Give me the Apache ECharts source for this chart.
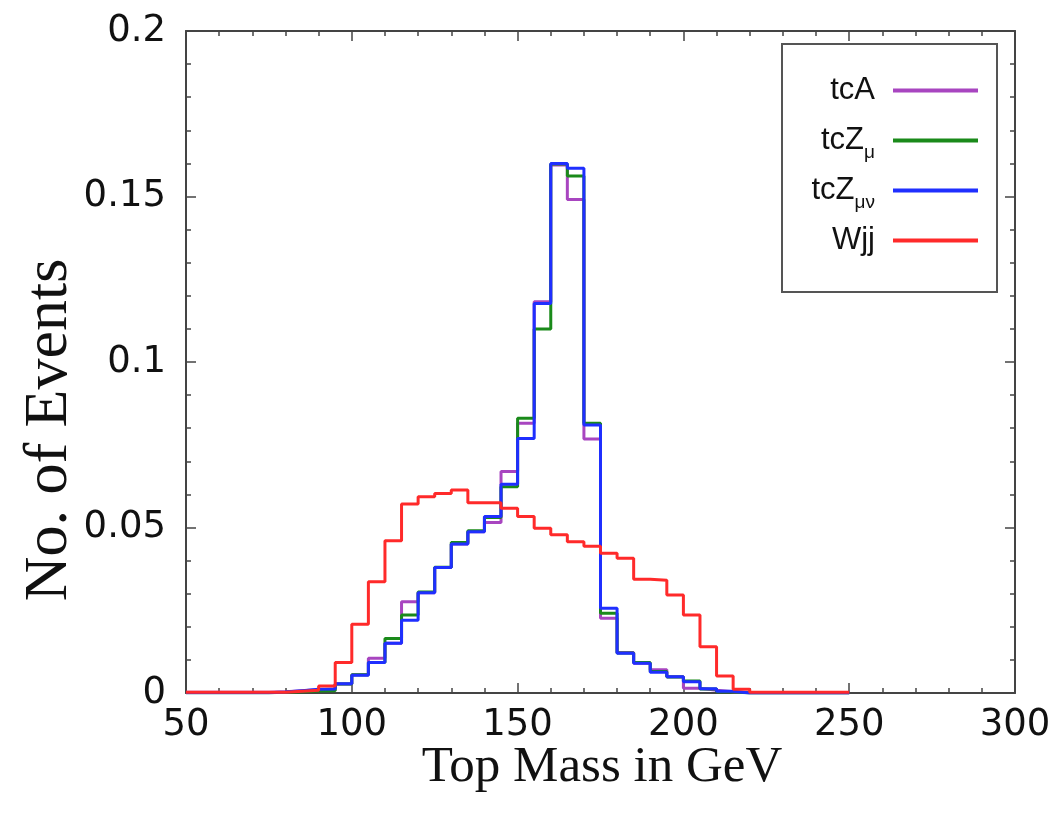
<!DOCTYPE html>
<html>
<head>
<meta charset="utf-8">
<script src="https://cdn.jsdelivr.net/npm/echarts@6/dist/echarts.min.js"></script>
<style>html,body{margin:0;padding:0;background:#fff;}#c{width:1061px;height:818px;}</style>
</head>
<body>
<div id="c"></div>
<script>
// Bin lower edges (GeV), bin width 5
const binEdges = [50,55,60,65,70,75,80,85,90,95,100,105,110,115,120,125,130,135,140,145,150,155,160,165,170,175,180,185,190,195,200,205,210,215,220,225,230,235,240,245,250];
const seriesNames = ['tcA', 'tcZμ', 'tcZμν', 'Wjj'];
const tcA = [0.0002,0.0002,0.0002,0.0002,0.0002,0.0004,0.0007,0.0010,0.0012,0.0027,0.0055,0.0105,0.0150,0.0276,0.0303,0.0379,0.0450,0.0487,0.0515,0.0669,0.0815,0.1182,0.1595,0.1491,0.0767,0.0226,0.0122,0.0090,0.0070,0.0049,0.0014,0.0008,0.0004,0.0001,0.0001,0.0001,0.0001,0.0001,0.0001,0.0001];
const tcZmu = [0.0001,0.0001,0.0001,0.0001,0.0001,0.0002,0.0004,0.0006,0.0007,0.0027,0.0055,0.0092,0.0165,0.0236,0.0305,0.0380,0.0455,0.0490,0.0530,0.0623,0.0830,0.1100,0.1598,0.1562,0.0815,0.0241,0.0121,0.0092,0.0065,0.0048,0.0036,0.0012,0.0004,0,0,0,0,0,0,0];
const tcZmunu = [0.0001,0.0001,0.0001,0.0001,0.0001,0.0003,0.0007,0.0011,0.0012,0.0028,0.0054,0.0092,0.0150,0.0220,0.0303,0.0379,0.0450,0.0487,0.0533,0.0631,0.0769,0.1177,0.1600,0.1585,0.0810,0.0256,0.0120,0.0090,0.0063,0.0049,0.0034,0.0013,0.0005,0,0,0,0,0,0,0];
const wjj = [0.0002,0.0002,0.0002,0.0002,0.0002,0.0002,0.0005,0.0008,0.0021,0.0092,0.0208,0.0336,0.0460,0.0571,0.0593,0.0603,0.0613,0.0575,0.0575,0.0558,0.0533,0.0498,0.0478,0.0457,0.0443,0.0422,0.0407,0.0344,0.0341,0.0296,0.0236,0.0140,0.0051,0.0011,0.0002,0.0002,0.0002,0.0002,0.0002,0.0002];
const xTicks = [50,100,150,200,250,300];
const yTicks = [0,0.05,0.1,0.15,0.2];
const colors = ['#a845c0', '#1a8a1a', '#1f2fff', '#ff2a2a'];

function steps(vals) {
  const d = vals.map((v, i) => [binEdges[i], v]);
  d.push([binEdges[vals.length], vals[vals.length - 1]]);
  return d;
}

const axisColor = '#444';
const tickFont = { fontFamily: 'DejaVu Sans', fontSize: 37, color: '#111' };

function xAxisDef(pos, showLabel) {
  return {
    type: 'value', position: pos, min: xTicks[0], max: xTicks[xTicks.length - 1], interval: 50,
    axisLine: { show: true, onZero: false, lineStyle: { color: axisColor, width: 2 } },
    axisTick: { show: true, inside: true, length: 10, lineStyle: { color: axisColor, width: 1.5 } },
    minorTick: { show: true, splitNumber: 5, length: 5, lineStyle: { color: axisColor, width: 1.5 } },
    splitLine: { show: false },
    axisLabel: Object.assign({ show: showLabel, margin: 14 }, tickFont)
  };
}
function yAxisDef(pos, showLabel) {
  return {
    type: 'value', position: pos, min: yTicks[0], max: yTicks[yTicks.length - 1], interval: 0.05,
    axisLine: { show: true, onZero: false, lineStyle: { color: axisColor, width: 2 } },
    axisTick: { show: true, inside: true, length: 10, lineStyle: { color: axisColor, width: 1.5 } },
    minorTick: { show: true, splitNumber: 5, length: 5, lineStyle: { color: axisColor, width: 1.5 } },
    splitLine: { show: false },
    axisLabel: Object.assign({ show: showLabel, margin: 20 }, tickFont)
  };
}

const dataSets = [tcA, tcZmu, tcZmunu, wjj];
const series = dataSets.map((vals, i) => ({
  name: seriesNames[i], type: 'line', step: 'end', showSymbol: false, symbol: 'none',
  xAxisIndex: 0, yAxisIndex: 0, data: steps(vals),
  lineStyle: { color: colors[i], width: 3 }, itemStyle: { color: colors[i] },
  z: 2 + i, animation: false
}));

const legendY = [93, 143, 193, 243];
const legends = seriesNames.map((n, i) => ({
  data: [n], orient: 'vertical', align: 'right', right: 83, top: legendY[i] - 18,
  padding: 0, itemWidth: 85, itemHeight: 4, icon: 'rect',
  formatter: function (name) {
    if (name === 'tcZμ') return 'tcZ{sub|μ}';
    if (name === 'tcZμν') return 'tcZ{sub|μν}';
    return name;
  },
  textStyle: {
    fontFamily: 'Liberation Sans', fontSize: 31, color: '#111', padding: [0, 13, 0, 0],
    rich: { sub: { fontFamily: 'Liberation Sans', fontSize: 19, color: '#111', padding: [24, 0, 0, 0] } }
  }
}));

const chart = echarts.init(document.getElementById('c'), null, { renderer: 'canvas' });
chart.setOption({
  animation: false,
  backgroundColor: '#fff',
  grid: { left: 186, right: 46, top: 31, bottom: 125, containLabel: false },
  xAxis: [xAxisDef('bottom', true), xAxisDef('top', false)],
  yAxis: [yAxisDef('left', true), yAxisDef('right', false)],
  legend: legends,
  series: series,
  graphic: [
    { type: 'rect', shape: { x: 782, y: 44, width: 215, height: 248 }, style: { fill: 'none', stroke: '#555', lineWidth: 2 }, z: 10 },
    { type: 'text', x: 602, y: 768, style: { text: 'Top Mass in GeV', font: '51px "Liberation Serif"', fill: '#111', textAlign: 'center', textVerticalAlign: 'middle' } },
    { type: 'text', x: 50, y: 430, rotation: Math.PI / 2, style: { text: 'No. of Events', font: '62px "Liberation Serif"', fill: '#111', textAlign: 'center', textVerticalAlign: 'middle' } }
  ]
});
</script>
</body>
</html>
